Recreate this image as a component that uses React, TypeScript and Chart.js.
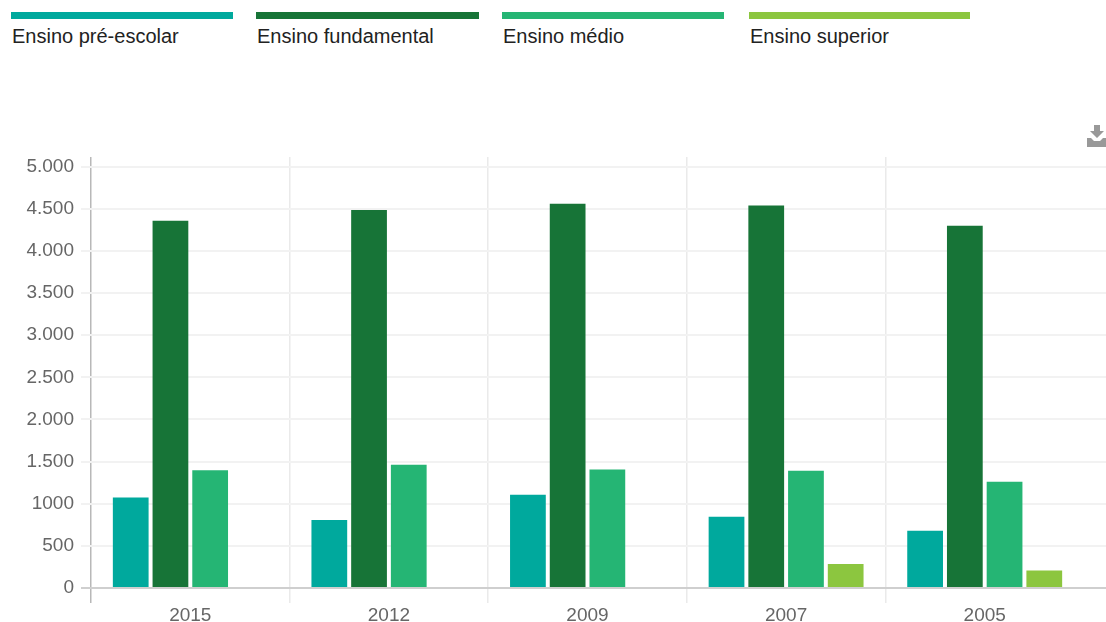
import React, { useEffect, useRef } from "react";
import { Chart, registerables } from "chart.js";

Chart.register(...registerables);

const years = ["2015", "2012", "2009", "2007", "2005"];
const preEscolar = [1075, 807, 1107, 846, 680];
const fundamental = [4359, 4486, 4561, 4540, 4300];
const medio = [1396, 1463, 1407, 1392, 1261];
const superior = [null, null, null, 285, 209];

const seriesNames = ["Ensino pré-escolar", "Ensino fundamental", "Ensino médio", "Ensino superior"];
const seriesColors = ["#00A99D", "#177437", "#25B574", "#8CC63F"];
const legendLeft = [11, 256, 502, 749];
const legendWidth = [222, 223, 222, 221];

const yTickValues = [0, 500, 1000, 1500, 2000, 2500, 3000, 3500, 4000, 4500, 5000];
const yTickLabels = ["0", "500", "1000", "1.500", "2.000", "2.500", "3.000", "3.500", "4.000", "4.500", "5.000"];

const FONT = "'Liberation Sans', Arial, sans-serif";

// Horizontal rules continue past the last category up to the edge of the canvas.
const extendRules = {
  id: "extendRules",
  beforeDatasetsDraw(chart: any) {
    const { ctx, chartArea, scales, width } = chart;
    ctx.save();
    for (const value of yTickValues) {
      const y = Math.round(scales.y.getPixelForValue(value));
      ctx.strokeStyle = value === 0 ? "#cfcfcf" : "#f2f2f2";
      ctx.lineWidth = 2;
      ctx.beginPath();
      ctx.moveTo(chartArea.right, y);
      ctx.lineTo(width, y);
      ctx.stroke();
    }
    ctx.restore();
  },
};

export default function App() {
  const canvasRef = useRef<HTMLCanvasElement>(null);

  useEffect(() => {
    const seriesValues = [preEscolar, fundamental, medio, superior];
    const chart = new Chart(canvasRef.current!, {
      type: "bar",
      data: {
        labels: years,
        datasets: seriesNames.map((name, i) => ({
          label: name,
          data: seriesValues[i],
          backgroundColor: seriesColors[i],
          categoryPercentage: 0.8,
          barPercentage: 0.9,
        })),
      },
      options: {
        animation: false,
        responsive: false,
        layout: { padding: { top: 157, right: 22, left: 0, bottom: 0 } },
        plugins: { legend: { display: false }, title: { display: false }, tooltip: { enabled: false } },
        scales: {
          x: {
            afterFit(scale: any) {
              scale.height = 34;
            },
            border: { display: false },
            grid: {
              offset: true,
              lineWidth: 1.5,
              tickLength: 15,
              color: (c: any) => (!c.tick ? "transparent" : c.index === 0 ? "#b8b8b8" : "#eaeaea"),
              tickColor: (c: any) => (!c.tick ? "transparent" : c.index === 0 ? "#b8b8b8" : "#eaeaea"),
            },
            ticks: { color: "#666666", font: { family: FONT, size: 19 }, padding: 1, maxRotation: 0 },
          },
          y: {
            min: 0,
            max: 5115,
            afterFit(scale: any) {
              scale.width = 91;
            },
            afterBuildTicks(scale: any) {
              scale.ticks = yTickValues.map((value) => ({ value }));
            },
            border: { display: false },
            grid: {
              tickLength: 10,
              lineWidth: 2,
              color: (c: any) => (c.tick && c.tick.value === 0 ? "#cfcfcf" : "#f2f2f2"),
              tickColor: (c: any) => (c.tick && c.tick.value === 0 ? "#cfcfcf" : "#f2f2f2"),
            },
            ticks: {
              color: "#666666",
              font: { family: FONT, size: 19 },
              padding: 7,
              callback: (value: any) => yTickLabels[yTickValues.indexOf(value)],
            },
          },
        },
      },
      plugins: [extendRules],
    } as any);
    return () => chart.destroy();
  }, []);

  return (
    <div style={{ position: "absolute", left: 0, top: 0, width: 1106, height: 622, overflow: "hidden", background: "#fff" }}>
      {seriesNames.map((name, i) => (
        <div key={name} style={{ position: "absolute", left: legendLeft[i], top: 12, width: legendWidth[i] }}>
          <div style={{ height: 7, background: seriesColors[i] }} />
          <div style={{ marginTop: 5, marginLeft: 1, fontFamily: FONT, fontSize: 20, lineHeight: "24px", color: "#222", whiteSpace: "nowrap" }}>{name}</div>
        </div>
      ))}
      <canvas ref={canvasRef} width={1106} height={622} style={{ position: "absolute", left: 0, top: 0, display: "block" }} />
      <svg width={20} height={22} viewBox="0 0 20 22" style={{ position: "absolute", left: 1087, top: 125 }}>
        <path d="M7 0h6v6h4l-7 7-7-7h4z M0 13h4l3 3h6l3-3h4v9H0z" fill="#999999" />
      </svg>
    </div>
  );
}
